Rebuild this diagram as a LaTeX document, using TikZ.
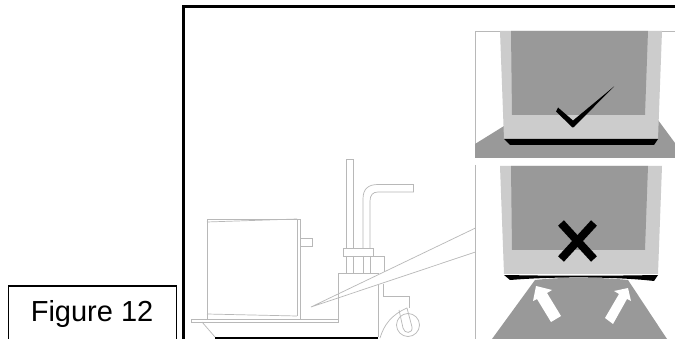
\documentclass[tikz,border=0pt]{standalone}
\usepackage{fontspec}
\setmainfont{Liberation Sans}
\definecolor{lightg}{gray}{0.80}
\definecolor{darkg}{gray}{0.60}
\definecolor{thing}{gray}{0.72}
\tikzset{thin line/.style={draw=thing,line width=0.7pt},
 black fill/.style={fill=black,draw=none},
 figbox/.style={draw=black,line width=1.1pt,minimum width=168pt,minimum height=56pt,inner sep=0pt,anchor=north west},
 lip/.style={fill=lightg,draw=none},
 panel/.style={fill=darkg,draw=none}}
\begin{document}
\begin{tikzpicture}[x=1pt,y=-1pt]
\useasboundingbox (0,0) rectangle (675,339);
\fill[white] (0,0) rectangle (675,339);
\begin{scope}
\clip (0,0) rectangle (675,339);
% frame
\draw[black,line width=3pt] (183.5,339) -- (183.5,6.5) -- (675,6.5);
% figure label
\node[figbox] (fig) at (7.5,285.5) {\fontsize{29}{30}\selectfont Figure 12};
% panel frames
\draw[thin line] (675,31) -- (475.5,31) -- (475.5,158);
\draw[thin line] (475.5,165) -- (475.5,339);
% top panel
\fill[darkg] (475,144) -- (504,126) -- (658,120) -- (675,143) -- (675,158) -- (475,158) -- cycle;
\path[lip] (500,31) -- (662,31) -- (658,139) -- (504,139) -- cycle;
\path[panel] (511,31) -- (648,31) -- (645,115) -- (512,115) -- cycle;
\path[black fill] (504,139) -- (658,139) -- (654,145) -- (510,145) -- cycle;
\path[black fill] (558,107.5) -- (573,120.5) -- (614,86.5) -- (574,127) -- (572.5,127.5) -- (556,111.5) -- cycle;
% lower panel
\path[lip] (500,166) -- (662,166) -- (658,274) -- (504,274) -- cycle;
\path[panel] (511,166) -- (648,166) -- (645,250) -- (512,250) -- cycle;
\path[black fill] (504,275) .. controls (560,276) and (600,276) .. (658,275) -- (654,281) .. controls (620,277) and (560,276) .. (510,280) -- cycle;
\fill[darkg] (535,280) .. controls (560,277) and (600,277) .. (628,280) -- (667,339) -- (492,339) -- cycle;
\draw[black,line width=8pt] (561,223) -- (594,259) (594,223) -- (561,259);
% white arrows
\fill[white] (536,286) -- (552,290) -- (547,293) -- (561,316) -- (551,322) -- (537,299) -- (533,301) -- cycle;
\fill[white] (628,288) -- (631,301) -- (627,299) -- (613,324) -- (605,318) -- (619,294) -- (614,291) -- cycle;
% load box
\draw[thin line] (207,319) -- (207,219) -- (300,219) -- (300,319);
\draw[thin line] (297,219) -- (297,316);
\draw[thin line] (207,222) -- (297,219);
\draw[thin line] (207,314) -- (297,316);
\draw[thin line] (300,238) -- (312,238) -- (312,246) -- (300,246);
% forks
\draw[thin line] (191,319) rectangle (338,322);
\draw[thin line] (202,322) -- (215,337);
% base black line
\draw[black,line width=2pt] (215,337.5) -- (378,337.5);
% mast
\draw[thin line] (346.5,248) -- (346.5,159) -- (353,159) -- (353,248);
\draw[thin line] (363,248) -- (363,199) .. controls (363,189) and (368,184.5) .. (378,184.5) -- (413.5,184.5) -- (413.5,192) -- (378,192) .. controls (373,192) and (370,195) .. (370,201) -- (370,248);
\draw[thin line] (343,248) rectangle (373,256);
\draw[thin line] (346.5,256) -- (346.5,273) (353,256) -- (353,273) (363,256) -- (363,273) (370,256) -- (370,273);
% body
\draw[thin line] (338,322) -- (338,273) -- (379,273) (373,256) -- (384,256) -- (384,272);
\draw[thin line] (378,285) -- (378,337);
\draw[thin line] (383,284) -- (383,296) -- (409.5,296) -- (409.5,308);
% wheel
\draw[thin line] (408,325) circle (11.5);
\draw[thin line] (399,310) -- (403,328) .. controls (404,334) and (413,334) .. (412,327) -- (407,308);
\draw[thin line] (380,338) .. controls (384,325) and (391,315) .. (407,308);
% pointer
\coordinate (apex) at (311,307);
\coordinate (upper) at (475.5,228);
\coordinate (lower) at (475.5,252);
\draw[thin line] (upper) -- (apex) -- (lower);
\end{scope}
\end{tikzpicture}
\end{document}
